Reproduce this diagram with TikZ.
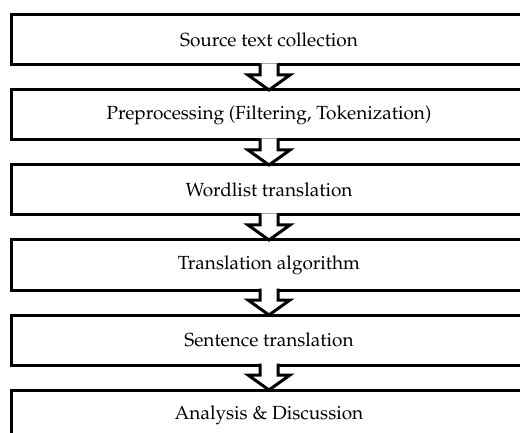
\documentclass[tikz,border=0pt]{standalone}
\usepackage[T1]{fontenc}
\usepackage{mathpazo}
\usepackage{tikz}
\usetikzlibrary{positioning, calc}

\begin{document}
\begin{tikzpicture}[
    x=1pt, y=1pt,
    node distance=25pt,
    stage/.style={draw, line width=3pt, minimum width=516pt, minimum height=50pt,
                  outer sep=0pt, inner sep=0pt, font=\fontsize{19}{22}\selectfont},
    hollow/.style={line width=3pt, miter limit=10}
  ]
    \useasboundingbox (0,0) rectangle (520,-433);
    \clip (0,0) rectangle (520,-433);
    \node[stage] at (269,-40) (src)  {Source text collection};
    \node[stage, below=of src]  (prep) {Preprocessing (Filtering, Tokenization)};
    \node[stage, below=of prep] (wl)   {Wordlist translation};
    \node[stage, below=of wl]   (algo) {Translation algorithm};
    \node[stage, below=of algo] (sent) {Sentence translation};
    \node[stage, below=of sent] (ana)  {Analysis \& Discussion};
    % hollow block arrows between the stages
    \foreach \a/\b in {src/prep, prep/wl, wl/algo, algo/sent, sent/ana}{
      \fill[white] ($(\a.south)+(-9,1.5)$) -- ($(\a.south)+(-9,-10)$)
        -- ($(\a.south)+(-21,-10)$) -- (\b.north) -- ($(\a.south)+(21,-10)$)
        -- ($(\a.south)+(9,-10)$) -- ($(\a.south)+(9,1.5)$) -- cycle;
      \draw[hollow] ($(\a.south)+(-9,1.5)$) -- ($(\a.south)+(-9,-10)$)
        -- ($(\a.south)+(-21,-10)$) -- (\b.north) -- ($(\a.south)+(21,-10)$)
        -- ($(\a.south)+(9,-10)$) -- ($(\a.south)+(9,1.5)$);
    }
  \end{tikzpicture}
\end{document}
